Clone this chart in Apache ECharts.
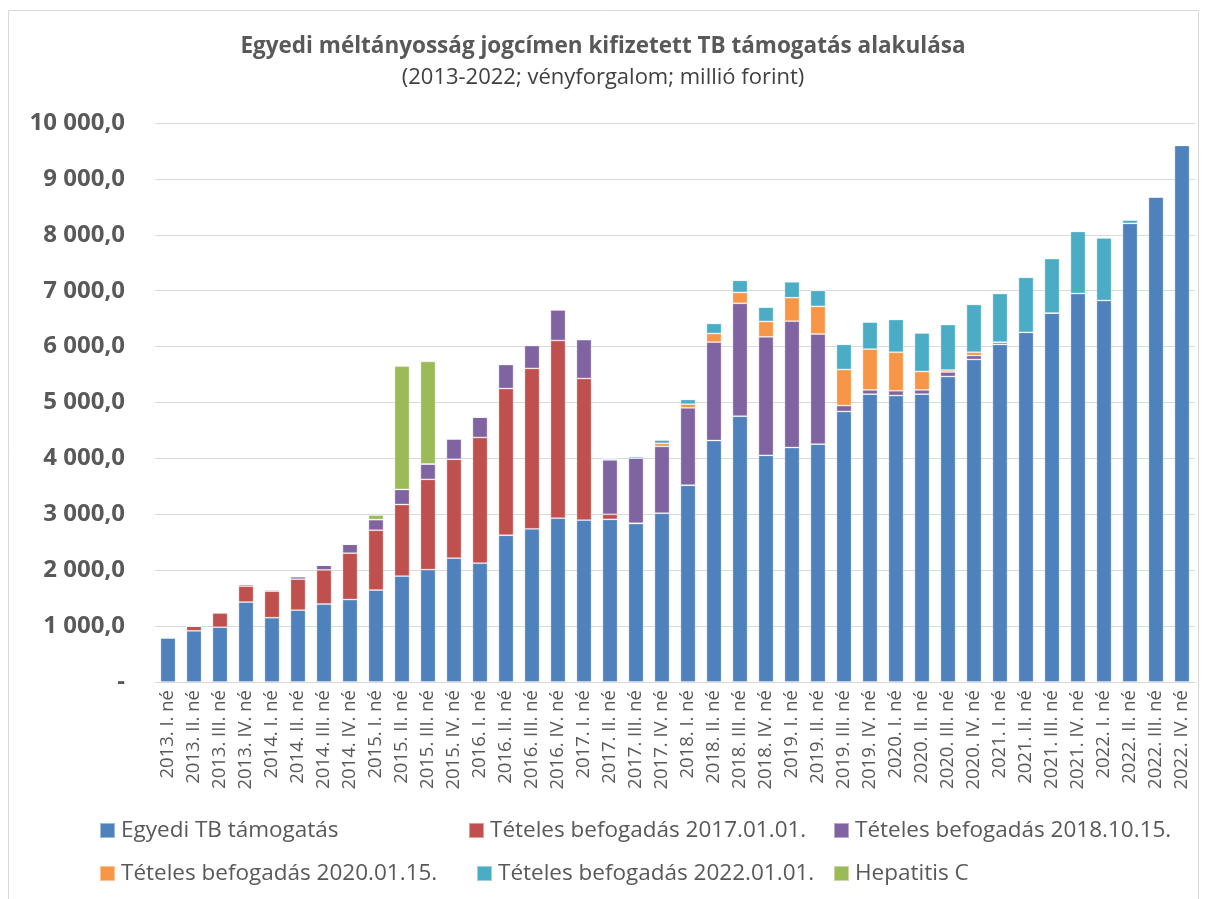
<!DOCTYPE html>
<html>
<head>
<meta charset="utf-8">
<script src="https://cdn.jsdelivr.net/npm/echarts@6/dist/echarts.min.js"></script>
<style>
html,body{margin:0;padding:0;background:#fff;}
#c{width:1206px;height:899px;}
</style>
</head>
<body>
<div id="c"></div>
<script>
const categories = [
 "2013. I. né","2013. II. né","2013. III. né","2013. IV. né",
 "2014. I. né","2014. II. né","2014. III. né","2014. IV. né",
 "2015. I. né","2015. II. né","2015. III. né","2015. IV. né",
 "2016. I. né","2016. II. né","2016. III. né","2016. IV. né",
 "2017. I. né","2017. II. né","2017. III. né","2017. IV. né",
 "2018. I. né","2018. II. né","2018. III. né","2018. IV. né",
 "2019. I. né","2019. II. né","2019. III. né","2019. IV. né",
 "2020. I. né","2020. II. né","2020. III. né","2020. IV. né",
 "2021. I. né","2021. II. né","2021. III. né","2021. IV. né",
 "2022. I. né","2022. II. né","2022. III. né","2022. IV. né"
];
const seriesNames = [
 "Egyedi TB támogatás",
 "Tételes befogadás 2017.01.01.",
 "Tételes befogadás 2018.10.15.",
 "Tételes befogadás 2020.01.15.",
 "Tételes befogadás 2022.01.01.",
 "Hepatitis C"
];
const egyediTB = [
 785,915,980,1430, 1150,1285,1395,1475, 1645,1895,2010,2215,
 2125,2625,2740,2930, 2895,2910,2835,3020, 3520,4320,4755,4055,
 4195,4255,4840,5150, 5125,5150,5465,5770, 6040,6255,6600,6950,
 6825,8205,8680,9600
];
const teteles2017 = [
 20,85,255,285, 475,555,610,830, 1070,1280,1615,1770,
 2250,2625,2870,3180, 2535,90,5,0, 0,0,0,0,
 0,0,0,0, 0,0,0,0, 0,0,0,0, 0,0,0,0
];
const teteles2018 = [
 0,0,10,30, 25,45,85,160, 190,270,275,365,
 365,430,410,545, 695,975,1165,1195, 1385,1760,2020,2120,
 2260,1970,105,75, 85,75,80,70, 35,0,0,0, 0,0,0,0
];
const teteles2020 = [
 0,0,0,0, 0,0,0,0, 0,0,0,0,
 0,0,10,15, 0,0,0,55, 65,155,195,275,
 420,495,645,730, 690,330,35,60, 5,0,0,0, 0,0,0,0
];
const teteles2022 = [
 0,0,0,0, 0,0,0,0, 0,0,0,0,
 0,0,0,0, 15,20,30,60, 85,180,215,255,
 285,285,450,485, 585,690,815,855, 870,985,975,1110,
 1120,60,0,0
];
const hepatitisC = [
 0,0,0,0, 0,0,0,0, 80,2205,1835,0,
 0,0,0,0, 0,0,0,0, 0,0,0,0,
 0,0,0,0, 0,0,0,0, 0,0,0,0, 0,0,0,0
];
const yTicks = [0,1000,2000,3000,4000,5000,6000,7000,8000,9000,10000];

const colors = ["#4F81BD","#C0504D","#8064A2","#F79646","#4BACC6","#9BBB59"];
const allData = [egyediTB, teteles2017, teteles2018, teteles2020, teteles2022, hepatitisC];
const FONT = '"Open Sans", Lato, sans-serif';

function fmt(v){
  if (v === 0) return '-';
  const s = String(Math.round(v));
  return s.replace(/\B(?=(\d{3})+(?!\d))/g, ' ') + ',0';
}

const legendPos = [
  {left:94, top:814}, {left:463, top:814}, {left:828, top:814},
  {left:94, top:857}, {left:471, top:857}, {left:828, top:857}
];

const chart = echarts.init(document.getElementById('c'), null, {renderer:'canvas'});
chart.setOption({
  animation:false,
  textStyle:{fontFamily:FONT},
  graphic:[{type:'rect', shape:{x:8.5,y:10.5,width:1190,height:900}, style:{fill:'none', stroke:'#d9d9d9', lineWidth:1}}],
  title:[
    {text:'Egyedi méltányosság jogcímen kifizetett TB támogatás alakulása', left:'center', top:30,
     textStyle:{fontFamily:FONT, fontSize:22.5, fontWeight:'bold', color:'#595959'}},
    {text:'(2013-2022; vényforgalom; millió forint)', left:'center', top:62,
     textStyle:{fontFamily:FONT, fontSize:22, fontWeight:'normal', color:'#404040'}}
  ],
  legend: seriesNames.map((n,i)=>({
    data:[n], left:legendPos[i].left, top:legendPos[i].top, itemWidth:15, itemHeight:15, itemGap:4,
    icon:'rect', textStyle:{fontFamily:FONT, fontSize:22.5, color:'#595959', padding:[0,0,0,1]}
  })),
  grid:{left:155, right:11, top:123, bottom:217, containLabel:false},
  xAxis:{
    type:'category', data:categories,
    axisLine:{lineStyle:{color:'#d9d9d9', width:1}},
    axisTick:{show:false},
    axisLabel:{interval:0, rotate:90, fontFamily:FONT, fontSize:18.5, color:'#595959', margin:8}
  },
  yAxis:{
    type:'value', min:yTicks[0], max:yTicks[yTicks.length-1], interval:1000,
    axisLine:{show:false}, axisTick:{show:false},
    splitLine:{lineStyle:{color:'#d9d9d9', width:1}},
    axisLabel:{formatter:fmt, fontFamily:FONT, fontSize:24, fontWeight:'bold', color:'#595959', margin:30}
  },
  series: seriesNames.map((n,i)=>({
    name:n, type:'bar', stack:'total', data:allData[i],
    barCategoryGap:'42%',
    itemStyle:{color:colors[i], borderColor:'rgba(255,255,255,0.45)', borderWidth:0.8}
  }))
});
</script>
</body>
</html>
